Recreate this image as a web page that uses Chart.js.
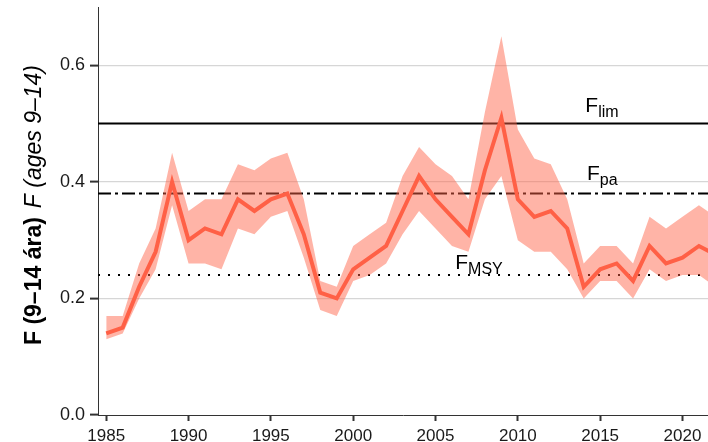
<!DOCTYPE html>
<html lang="is">

<head>
    <meta charset="UTF-8">
    <title>F (9-14 ára)</title>
    <script src="https://cdn.jsdelivr.net/npm/chart.js"></script>
    <style>
        body { margin: 0; background: #fff; }
        .grafico { width: 708px; height: 442px; }
    </style>
</head>

<body>
    <div class="grafico">
        <canvas id="graficoF"></canvas>
    </div>

    <script>
        // gogn lesin af myndinni
        var ar = [1985, 1986, 1987, 1988, 1989, 1990, 1991, 1992, 1993, 1994,
            1995, 1996, 1997, 1998, 1999, 2000, 2001, 2002, 2003, 2004,
            2005, 2006, 2007, 2008, 2009, 2010, 2011, 2012, 2013, 2014,
            2015, 2016, 2017, 2018, 2019, 2020, 2021, 2022];
        var fGildi = [0.14, 0.15, 0.22, 0.28, 0.40, 0.30, 0.32, 0.31, 0.37, 0.35,
            0.37, 0.38, 0.31, 0.21, 0.20, 0.25, 0.27, 0.29, 0.35, 0.41,
            0.37, 0.34, 0.31, 0.42, 0.51, 0.37, 0.34, 0.35, 0.32, 0.22,
            0.25, 0.26, 0.23, 0.29, 0.26, 0.27, 0.29, 0.275];
        var fEfri = [0.17, 0.17, 0.26, 0.32, 0.45, 0.35, 0.37, 0.37, 0.43, 0.42,
            0.44, 0.45, 0.37, 0.23, 0.22, 0.29, 0.31, 0.33, 0.41, 0.46,
            0.43, 0.41, 0.37, 0.52, 0.65, 0.49, 0.44, 0.43, 0.37, 0.26,
            0.29, 0.29, 0.26, 0.34, 0.32, 0.34, 0.36, 0.34];
        var fNedri = [0.13, 0.14, 0.20, 0.25, 0.36, 0.26, 0.26, 0.25, 0.32, 0.31,
            0.34, 0.35, 0.27, 0.18, 0.17, 0.23, 0.24, 0.26, 0.31, 0.35,
            0.32, 0.29, 0.28, 0.37, 0.41, 0.30, 0.28, 0.28, 0.25, 0.20,
            0.23, 0.23, 0.20, 0.25, 0.23, 0.24, 0.24, 0.22];

        // vidmidunargildi
        var vidmidNofn = ['lim', 'pa', 'MSY'];
        var vidmidGildi = [0.50, 0.38, 0.24];
        var vidmidMerkiAr = [2014.1, 2014.2, 2006.2];
        var vidmidMerkiY = [0.52, 0.403, 0.25];

        var xTikk = [1985, 1990, 1995, 2000, 2005, 2010, 2015, 2020];
        var yTikk = [0.0, 0.2, 0.4, 0.6];
        var xMin = 1984.5, xMax = 2021.55;

        var letur = '"Liberation Sans", Arial, Helvetica, sans-serif';

        function punktar(gildi) {
            return ar.map(function (a, i) { return { x: a, y: gildi[i] }; });
        }
        function lina(y) {
            return [{ x: xMin, y: y }, { x: xMax, y: y }];
        }

        // y-as titill med feitletrun og skaletri
        var asTitill = {
            id: 'asTitill',
            afterDraw: function (chart) {
                var ctx = chart.ctx;
                var ca = chart.chartArea;
                var hluti1 = 'F (9–14 ára)';
                var hluti2 = 'F (ages 9–14)';
                ctx.save();
                ctx.fillStyle = '#000';
                ctx.font = 'bold 23px ' + letur;
                var b1 = ctx.measureText(hluti1).width;
                ctx.font = 'italic 23px ' + letur;
                var bil = 9;
                var b2 = ctx.measureText(hluti2).width;
                var alls = b1 + bil + b2;
                ctx.translate(41, (ca.top + ca.bottom) / 2 - 6 + alls / 2);
                ctx.rotate(-Math.PI / 2);
                ctx.textBaseline = 'alphabetic';
                ctx.font = 'bold 23px ' + letur;
                ctx.fillText(hluti1, 0, 0);
                ctx.font = 'italic 23px ' + letur;
                ctx.fillText(hluti2, b1 + bil, 0);
                ctx.restore();
            }
        };

        // merki vid vidmidunarlinur: F med lagstaf
        var vidmidMerki = {
            id: 'vidmidMerki',
            afterDatasetsDraw: function (chart) {
                var ctx = chart.ctx;
                var sx = chart.scales.x, sy = chart.scales.y;
                ctx.save();
                ctx.fillStyle = '#000';
                ctx.textBaseline = 'alphabetic';
                for (var i = 0; i < vidmidNofn.length; i++) {
                    var px = sx.getPixelForValue(vidmidMerkiAr[i]);
                    var py = sy.getPixelForValue(vidmidMerkiY[i]);
                    ctx.font = '21px ' + letur;
                    ctx.fillText('F', px, py);
                    var bF = ctx.measureText('F').width;
                    ctx.font = '16px ' + letur;
                    ctx.fillText(vidmidNofn[i], px + bF, py + 5);
                }
                ctx.restore();
            }
        };

        new Chart(document.getElementById('graficoF').getContext('2d'), {
            type: 'line',
            data: {
                datasets: [{
                    data: punktar(fEfri),
                    borderWidth: 0,
                    pointRadius: 0,
                    backgroundColor: 'rgba(255, 99, 71, 0.48)',
                    fill: '+1'
                }, {
                    data: punktar(fNedri),
                    borderWidth: 0,
                    pointRadius: 0,
                    fill: false
                }, {
                    data: punktar(fGildi),
                    borderColor: '#ff5f45',
                    borderWidth: 4,
                    pointRadius: 0,
                    borderJoinStyle: 'miter',
                    fill: false
                }, {
                    data: lina(vidmidGildi[0]),
                    borderColor: '#000',
                    borderWidth: 2,
                    pointRadius: 0,
                    fill: false
                }, {
                    data: lina(vidmidGildi[1]),
                    borderColor: '#000',
                    borderWidth: 2,
                    borderDash: [13, 4, 3, 4],
                    pointRadius: 0,
                    fill: false
                }, {
                    data: lina(vidmidGildi[2]),
                    borderColor: '#000',
                    borderWidth: 2,
                    borderDash: [2, 8],
                    pointRadius: 0,
                    fill: false
                }]
            },
            options: {
                responsive: true,
                maintainAspectRatio: false,
                animation: false,
                layout: { padding: { top: 7, right: 0, left: 0, bottom: 0 } },
                plugins: {
                    legend: { display: false },
                    tooltip: { enabled: false }
                },
                scales: {
                    x: {
                        type: 'linear',
                        min: xMin,
                        max: xMax,
                        afterBuildTicks: function (s) {
                            s.ticks = xTikk.map(function (v) { return { value: v }; });
                        },
                        afterFit: function (s) {
                            s.height = 27;
                            s.paddingLeft = 0;
                            s.paddingRight = 0;
                        },
                        grid: {
                            drawOnChartArea: false,
                            tickLength: 6,
                            tickWidth: 2,
                            tickColor: '#333'
                        },
                        border: { color: '#333', width: 1 },
                        ticks: {
                            maxRotation: 0,
                            padding: 5,
                            color: '#1a1a1a',
                            font: { family: letur, size: 17 },
                            callback: function (v) { return String(v); }
                        }
                    },
                    y: {
                        min: 0,
                        max: 0.7,
                        afterBuildTicks: function (s) {
                            s.ticks = yTikk.map(function (v) { return { value: v }; });
                        },
                        afterFit: function (s) {
                            s.width = 98;
                            s.paddingTop = 0;
                            s.paddingBottom = 0;
                        },
                        grid: {
                            color: function (c) { return c.tick && c.tick.value === 0 ? 'rgba(0,0,0,0)' : '#d6d6d6'; },
                            lineWidth: 1.2,
                            tickLength: 8,
                            tickWidth: 2,
                            tickColor: '#333'
                        },
                        border: { color: '#333', width: 1 },
                        ticks: {
                            padding: 5,
                            color: '#1a1a1a',
                            font: { family: letur, size: 18 },
                            callback: function (v) { return v.toFixed(1); }
                        }
                    }
                }
            },
            plugins: [asTitill, vidmidMerki]
        });
    </script>
</body>

</html>
